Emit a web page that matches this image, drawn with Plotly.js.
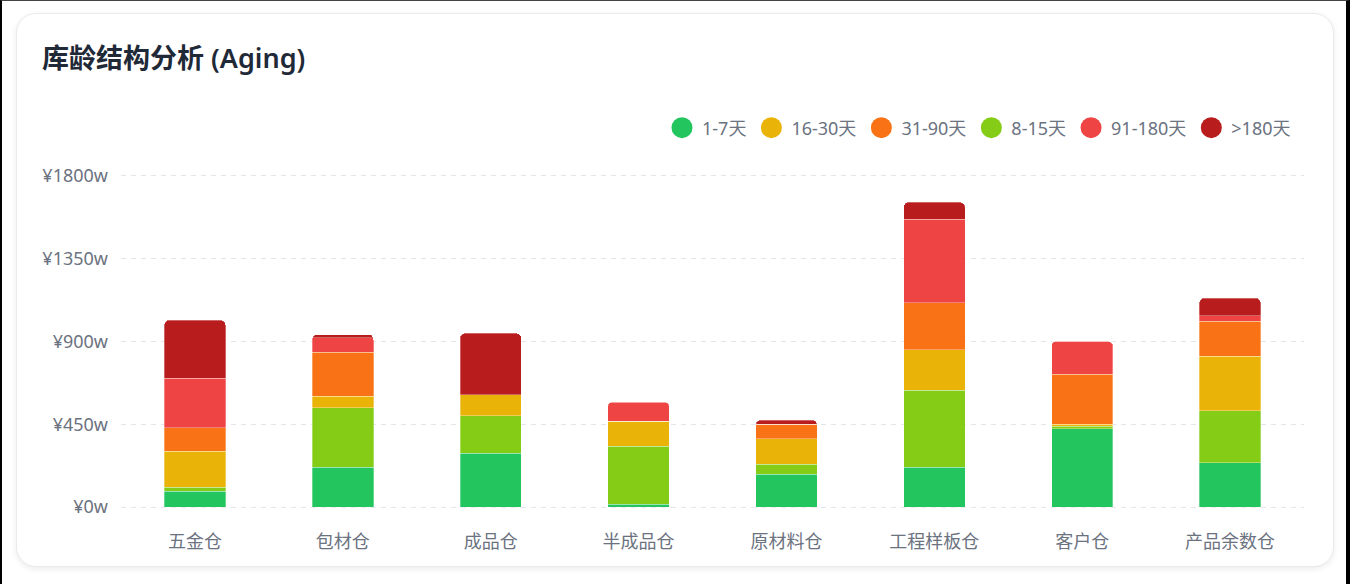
<!DOCTYPE html>
<html>
<head>
<meta charset="utf-8">
<script src="https://cdn.plot.ly/plotly-3.0.1.min.js"></script>
<style>
  html, body { margin: 0; padding: 0; background: #ffffff; }
  #frame { position: absolute; left: 0; top: 0; width: 1350px; height: 584px; box-sizing: border-box;
           border-left: 2px solid #000; border-top: 1px solid #444; border-right: 4px solid #000; pointer-events: none; z-index: 5; }
  #card { position: absolute; left: 16px; top: 13px; width: 1318px; height: 554px; box-sizing: border-box;
          border: 1px solid #e8eaee; border-radius: 20px; background: #fff;
          box-shadow: 0 2px 6px rgba(0,0,0,0.08); }
  #chart { position: absolute; left: 0; top: 0; width: 1350px; height: 584px; }
</style>
</head>
<body>
<div id="card"></div>
<div id="chart"></div>
<div id="frame"></div>
<script>
// ---- data ----
const categories = ["五金仓", "包材仓", "成品仓", "半成品仓", "原材料仓", "工程样板仓", "客户仓", "产品余数仓"];
const seriesNames = ["1-7天", "8-15天", "16-30天", "31-90天", "91-180天", ">180天"];
const d1_7     = [85, 217, 292, 15, 179, 216, 426, 241];
const d8_15    = [22, 323, 204, 315, 55, 420, 14, 283];
const d16_30   = [197, 63, 114, 136, 136, 218, 11, 297];
const d31_90   = [127, 238, 0, 0, 81, 257, 270, 190];
const d91_180  = [268, 80, 0, 103, 0, 453, 180, 28];
const d180p    = [317, 17, 334, 4, 22, 93, 0, 97];
const tickVals = [0, 450, 900, 1350, 1800];
const tickText = ["¥0w", "¥450w", "¥900w", "¥1350w", "¥1800w"];

const seriesData = [d1_7, d8_15, d16_30, d31_90, d91_180, d180p];
const colors = ["#22c55e", "#84cc16", "#eab308", "#f97316", "#ef4444", "#b91c1c"];
const ranks = [1, 4, 2, 3, 5, 6];

const FONT = '"Noto Sans", "Noto Sans CJK SC", sans-serif';

const traces = seriesNames.map((name, i) => ({
  type: "bar",
  name: name,
  x: categories,
  y: seriesData[i],
  marker: {
    color: colors[i],
    line: { color: "rgba(255,255,255,0.45)", width: 0.7 }
  },
  legendrank: ranks[i],
  hoverinfo: "x+y+name"
}));

// small padding so the 0 and 1800 gridlines are drawn
const pad = 16;

const layout = {
  width: 1350,
  height: 584,
  paper_bgcolor: "rgba(0,0,0,0)",
  plot_bgcolor: "rgba(0,0,0,0)",
  margin: { l: 121, r: 46, t: 173, b: 74 },
  barmode: "stack",
  bargap: 0.585,
  barcornerradius: 5,
  font: { family: FONT, color: "#6b7280", size: 18 },
  title: {
    text: "库龄结构分析 (Aging)",
    x: 42 / 1350, xanchor: "left", xref: "container",
    y: 1 - 59 / 584, yanchor: "middle", yref: "container",
    font: { family: FONT, size: 27, color: "#1f2937", weight: 600 }
  },
  showlegend: true,
  legend: {
    orientation: "h",
    x: (1296 - 121) / 1183, xanchor: "right",
    y: 1 + (173 - 128) / 337, yanchor: "middle",
    font: { family: FONT, size: 18, color: "#6b7280" },
    bgcolor: "rgba(0,0,0,0)",
    traceorder: "normal"
  },
  xaxis: {
    type: "category",
    showgrid: false,
    zeroline: false,
    showline: false,
    ticks: "",
    ticklabelstandoff: 19,
    tickfont: { family: FONT, size: 18, color: "#6b7280" }
  },
  yaxis: {
    range: [-pad, 1800 + pad],
    tickvals: tickVals,
    ticktext: tickText,
    showgrid: true,
    gridcolor: "#e3e5e9",
    griddash: "5px,5px",
    gridwidth: 1,
    zeroline: false,
    showline: false,
    ticks: "",
    ticklabelstandoff: 12,
    tickfont: { family: FONT, size: 18, color: "#6b7280" }
  }
};

Plotly.newPlot("chart", traces, layout, { displayModeBar: false, responsive: false }).then(() => {
  // make legend swatches circular
  const r = 10.5;
  document.querySelectorAll("#chart .legend .legendpoints path").forEach(p => {
    p.setAttribute("d", `M${r},0A${r},${r} 0 1,1 0,-${r}A${r},${r} 0 0,1 ${r},0Z`);
    p.style.strokeWidth = "0";
  });
});
</script>
</body>
</html>
